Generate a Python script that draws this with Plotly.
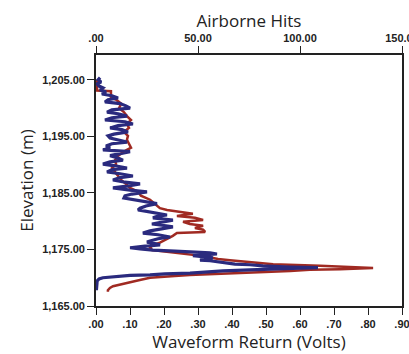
import plotly.graph_objects as go

# Airborne discrete hits per elevation bin (top axis)
hits_elev = [1205.4, 1205.0, 1204.6, 1204.3, 1203.9, 1203.6, 1203.2, 1202.9, 1202.5, 1202.2,
             1201.8, 1201.5, 1201.1, 1200.8, 1200.4, 1200.0, 1199.7, 1199.3, 1199.0, 1198.6,
             1198.3, 1197.9, 1197.6, 1197.2, 1196.9, 1196.5, 1196.2, 1195.8, 1195.4, 1195.1,
             1194.7, 1194.4, 1194.0, 1193.7, 1193.3, 1193.0, 1192.6, 1192.3, 1191.9, 1191.6,
             1191.2, 1190.8, 1190.5, 1190.1, 1189.8, 1189.4, 1189.1, 1188.7, 1188.4, 1188.0,
             1187.7, 1187.3, 1186.9, 1186.6, 1186.2, 1185.9, 1185.5, 1185.2, 1184.8, 1184.5,
             1184.1, 1183.8, 1183.4, 1183.1, 1182.7, 1182.3, 1182.0, 1181.6, 1181.3, 1181.1,
             1180.9, 1180.6, 1180.2, 1179.9, 1179.5, 1179.2, 1179.0, 1178.6, 1178.3, 1177.9,
             1177.6, 1177.2, 1176.9, 1176.5, 1176.3, 1176.0, 1175.8, 1175.6, 1175.3, 1175.1,
             1174.9, 1174.7, 1174.6, 1174.4, 1174.2, 1174.0, 1173.9, 1173.7, 1173.5, 1173.3,
             1173.1, 1173.0, 1172.8, 1172.6, 1172.4, 1172.3, 1172.1, 1171.9, 1171.8, 1171.7,
             1171.5, 1171.4, 1171.2, 1171.0, 1170.8, 1170.7, 1170.5, 1170.4, 1170.3, 1170.1,
             1170.0, 1169.8, 1169.4, 1169.1, 1167.8]
hits = [2.0, 1.0, 2.5, 0.5, 1.5, 3.4, 2.0, 4.9, 2.9, 7.8,
        10.8, 5.9, 4.4, 11.8, 14.7, 16.7, 7.8, 5.4, 10.8, 15.2,
        7.8, 4.4, 14.2, 18.1, 10.8, 6.9, 12.7, 15.7, 8.8, 5.9,
        6.9, 10.8, 15.2, 7.8, 4.9, 6.9, 3.4, 16.7, 9.8, 6.9,
        10.8, 13.2, 6.9, 3.4, 9.3, 15.2, 7.8, 5.4, 11.8, 18.1,
        11.8, 8.3, 14.2, 21.6, 15.2, 8.3, 16.7, 25.0, 17.6, 14.2,
        13.7, 19.1, 25.0, 29.9, 24.5, 21.6, 20.6, 26.5, 31.4, 34.8,
        30.4, 27.9, 37.7, 32.3, 27.4, 34.3, 37.7, 31.4, 26.5, 23.0,
        30.4, 36.3, 30.4, 26.5, 25.0, 29.4, 31.4, 24.0, 16.7, 21.6,
        27.9, 38.7, 46.1, 55.9, 59.3, 51.0, 47.5, 53.4, 57.3, 53.4,
        51.0, 55.9, 59.3, 63.2, 68.1, 75.5, 81.8, 95.1, 108.8, 100.0,
        88.7, 75.5, 62.2, 53.4, 46.1, 33.8, 26.5, 16.7, 13.2, 5.9,
        3.4, 1.5, 0.5, 0.5, 0.2]

# Full-waveform return amplitude (bottom axis)
wave_elev = [1205.0, 1203.1, 1203.0, 1201.8, 1201.5, 1200.8, 1200.0, 1199.3, 1198.6, 1197.9,
             1197.2, 1196.5, 1195.8, 1195.1, 1194.4, 1193.7, 1193.0, 1192.3, 1191.6, 1190.8,
             1190.1, 1189.4, 1188.7, 1188.0, 1187.3, 1186.6, 1185.9, 1185.2, 1184.5, 1183.8,
             1183.1, 1182.3, 1182.0, 1181.6, 1181.3, 1180.9, 1180.6, 1180.2, 1179.9, 1179.5,
             1179.2, 1178.8, 1178.5, 1178.1, 1177.9, 1177.4, 1176.7, 1176.2, 1175.8, 1175.3,
             1174.9, 1174.6, 1174.4, 1174.0, 1173.7, 1173.3, 1173.1, 1172.8, 1172.4, 1172.1,
             1171.9, 1171.7, 1171.5, 1171.4, 1171.2, 1171.0, 1170.8, 1170.7, 1170.5, 1170.3,
             1170.1, 1170.0, 1169.6, 1169.2, 1168.9, 1168.5, 1168.2, 1167.8, 1167.5]
volts = [0.003, 0.003, 0.044, 0.044, 0.059, 0.074, 0.068, 0.082, 0.091, 0.103,
         0.091, 0.097, 0.082, 0.094, 0.091, 0.097, 0.103, 0.082, 0.065, 0.056,
         0.059, 0.047, 0.056, 0.065, 0.074, 0.088, 0.100, 0.124, 0.132, 0.159,
         0.174, 0.188, 0.209, 0.262, 0.285, 0.238, 0.291, 0.315, 0.256, 0.276,
         0.315, 0.291, 0.315, 0.321, 0.238, 0.226, 0.203, 0.188, 0.168, 0.159,
         0.165, 0.212, 0.241, 0.291, 0.326, 0.359, 0.394, 0.453, 0.521, 0.659,
         0.747, 0.815, 0.718, 0.629, 0.571, 0.482, 0.379, 0.321, 0.276, 0.232,
         0.188, 0.159, 0.129, 0.100, 0.071, 0.050, 0.041, 0.035, 0.035]

volt_ticks = [0.0, 0.1, 0.2, 0.3, 0.4, 0.5, 0.6, 0.7, 0.8, 0.9]
volt_labels = [".00", ".10", ".20", ".30", ".40", ".50", ".60", ".70", ".80", ".90"]
hit_ticks = [0, 50, 100, 150]
hit_labels = [".00", "50.00", "100.00", "150.00"]
elev_ticks = [1165, 1175, 1185, 1195, 1205]
elev_labels = ["1,165.00", "1,175.00", "1,185.00", "1,195.00", "1,205.00"]

RED = "#a02a22"
BLUE = "#2a2a7e"
tick_font = dict(family="Liberation Sans, Arial, sans-serif", size=11, color="#222", weight="bold")
title_font = dict(family="Open Sans, Liberation Sans, sans-serif", size=17, color="#222")

fig = go.Figure()
fig.add_trace(go.Scatter(x=volts, y=wave_elev, mode="lines",
                         line=dict(color=RED, width=2.5), xaxis="x", yaxis="y"))
fig.add_trace(go.Scatter(x=hits, y=hits_elev, mode="lines",
                         line=dict(color=BLUE, width=3.2), xaxis="x2", yaxis="y"))

axis_common = dict(showline=True, linecolor="#222", linewidth=1.6, ticks="outside",
                   ticklen=7, tickwidth=1.2, tickcolor="#222", showgrid=False,
                   zeroline=False, tickfont=tick_font, title_font=title_font,
                   ticklabeloverflow="allow", automargin=False)

fig.update_layout(
    width=409, height=354,
    margin=dict(l=96, r=7, t=55, b=48, autoexpand=False),
    paper_bgcolor="white", plot_bgcolor="white",
    showlegend=False,
    xaxis=dict(range=[0, 0.9], tickvals=volt_ticks, ticktext=volt_labels,
               title=dict(text="Waveform Return (Volts)", standoff=0), **axis_common),
    xaxis2=dict(range=[0, 150], tickvals=hit_ticks, ticktext=hit_labels, overlaying="x",
                side="top", title=dict(text="Airborne Hits", standoff=0), **axis_common),
    yaxis=dict(range=[1165, 1209.4], tickvals=elev_ticks, ticktext=elev_labels,
               mirror=True, title=dict(text="Elevation (m)", standoff=4), **axis_common),
)

fig.write_html("out.html")
